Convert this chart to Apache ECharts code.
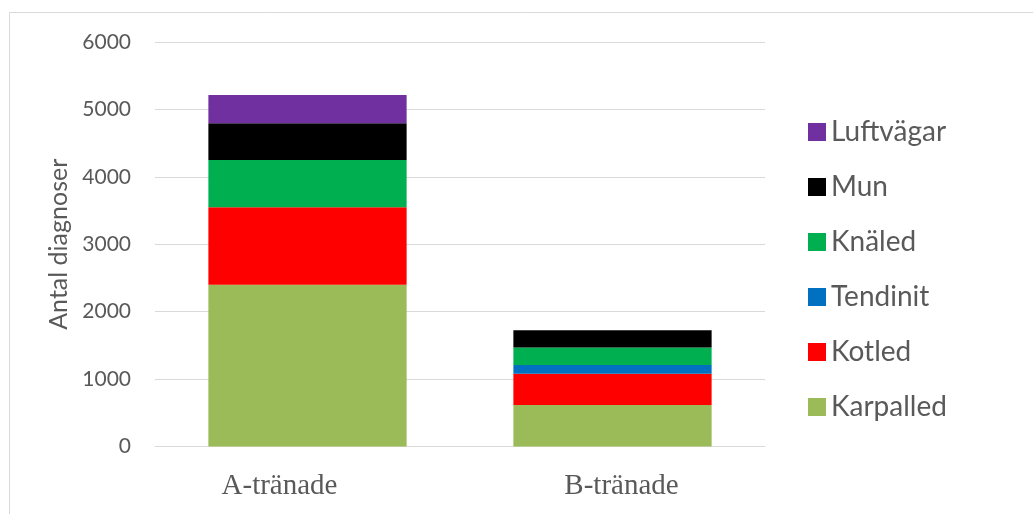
<!DOCTYPE html>
<html>
<head>
<meta charset="utf-8">
<script src="https://cdn.jsdelivr.net/npm/echarts@6/dist/echarts.min.js"></script>
<style>
  html, body { margin: 0; padding: 0; background: #fff; }
  #chart { width: 1033px; height: 514px; }
</style>
</head>
<body>
<div id="chart"></div>
<script>
// kategorier och värden
const categories = ['A-tränade', 'B-tränade']
const karpalled = [2400, 615]
const kotled = [1150, 465]
const tendinit = [0, 130]
const knaled = [700, 260]
const mun = [545, 255]
const luftvagar = [420, 0]

const seriesDefs = [
    { name: 'Karpalled', data: karpalled, color: '#9bbb59' },
    { name: 'Kotled', data: kotled, color: '#ff0000' },
    { name: 'Tendinit', data: tendinit, color: '#0070c0' },
    { name: 'Knäled', data: knaled, color: '#00b050' },
    { name: 'Mun', data: mun, color: '#000000' },
    { name: 'Luftvägar', data: luftvagar, color: '#7030a0' }
]

const chart = echarts.init(document.getElementById('chart'))

const catLabel = { fontFamily: 'Liberation Serif', fontSize: 29, color: '#595959' }

chart.setOption({
    animation: false,
    textStyle: { fontFamily: 'Lato' },
    grid: { left: 155, right: 268, top: 42, bottom: 67.5 },
    graphic: [{
        type: 'rect',
        shape: { x: 9.5, y: 12.5, width: 1100, height: 600 },
        style: { fill: 'none', stroke: '#d9d9d9', lineWidth: 1 },
        silent: true
    }],
    legend: {
        orient: 'vertical',
        left: 808,
        top: 118,
        padding: 0,
        itemGap: 27,
        itemWidth: 18,
        itemHeight: 18,
        icon: 'rect',
        data: seriesDefs.map(s => s.name).reverse(),
        textStyle: { fontFamily: 'Lato', fontSize: 28, color: '#595959', lineHeight: 28 }
    },
    xAxis: {
        type: 'category',
        data: categories,
        axisLine: { lineStyle: { color: '#d9d9d9' } },
        axisTick: { show: false },
        axisLabel: {
            margin: 25,
            formatter: (v, i) => i === 0 ? '{a|' + v + '}' : '{b|' + v + '}',
            rich: {
                a: Object.assign({ padding: [0, 56, 0, 0] }, catLabel),
                b: Object.assign({ padding: [0, 0, 0, 18] }, catLabel)
            }
        }
    },
    yAxis: {
        type: 'value',
        min: 0,
        max: 6000,
        interval: 1000,
        name: 'Antal diagnoser',
        nameLocation: 'middle',
        nameGap: 80,
        nameTextStyle: { fontFamily: 'Lato', fontSize: 25, color: '#595959' },
        axisLine: { show: false },
        axisTick: { show: false },
        splitLine: { lineStyle: { color: '#d9d9d9' } },
        axisLabel: { fontFamily: 'Lato', fontSize: 21, color: '#595959', margin: 24, formatter: v => String(v) }
    },
    series: seriesDefs.map(s => ({
        name: s.name,
        type: 'bar',
        stack: 'total',
        data: s.data,
        barCategoryGap: '35%',
        itemStyle: { color: s.color }
    }))
})
</script>
</body>
</html>
